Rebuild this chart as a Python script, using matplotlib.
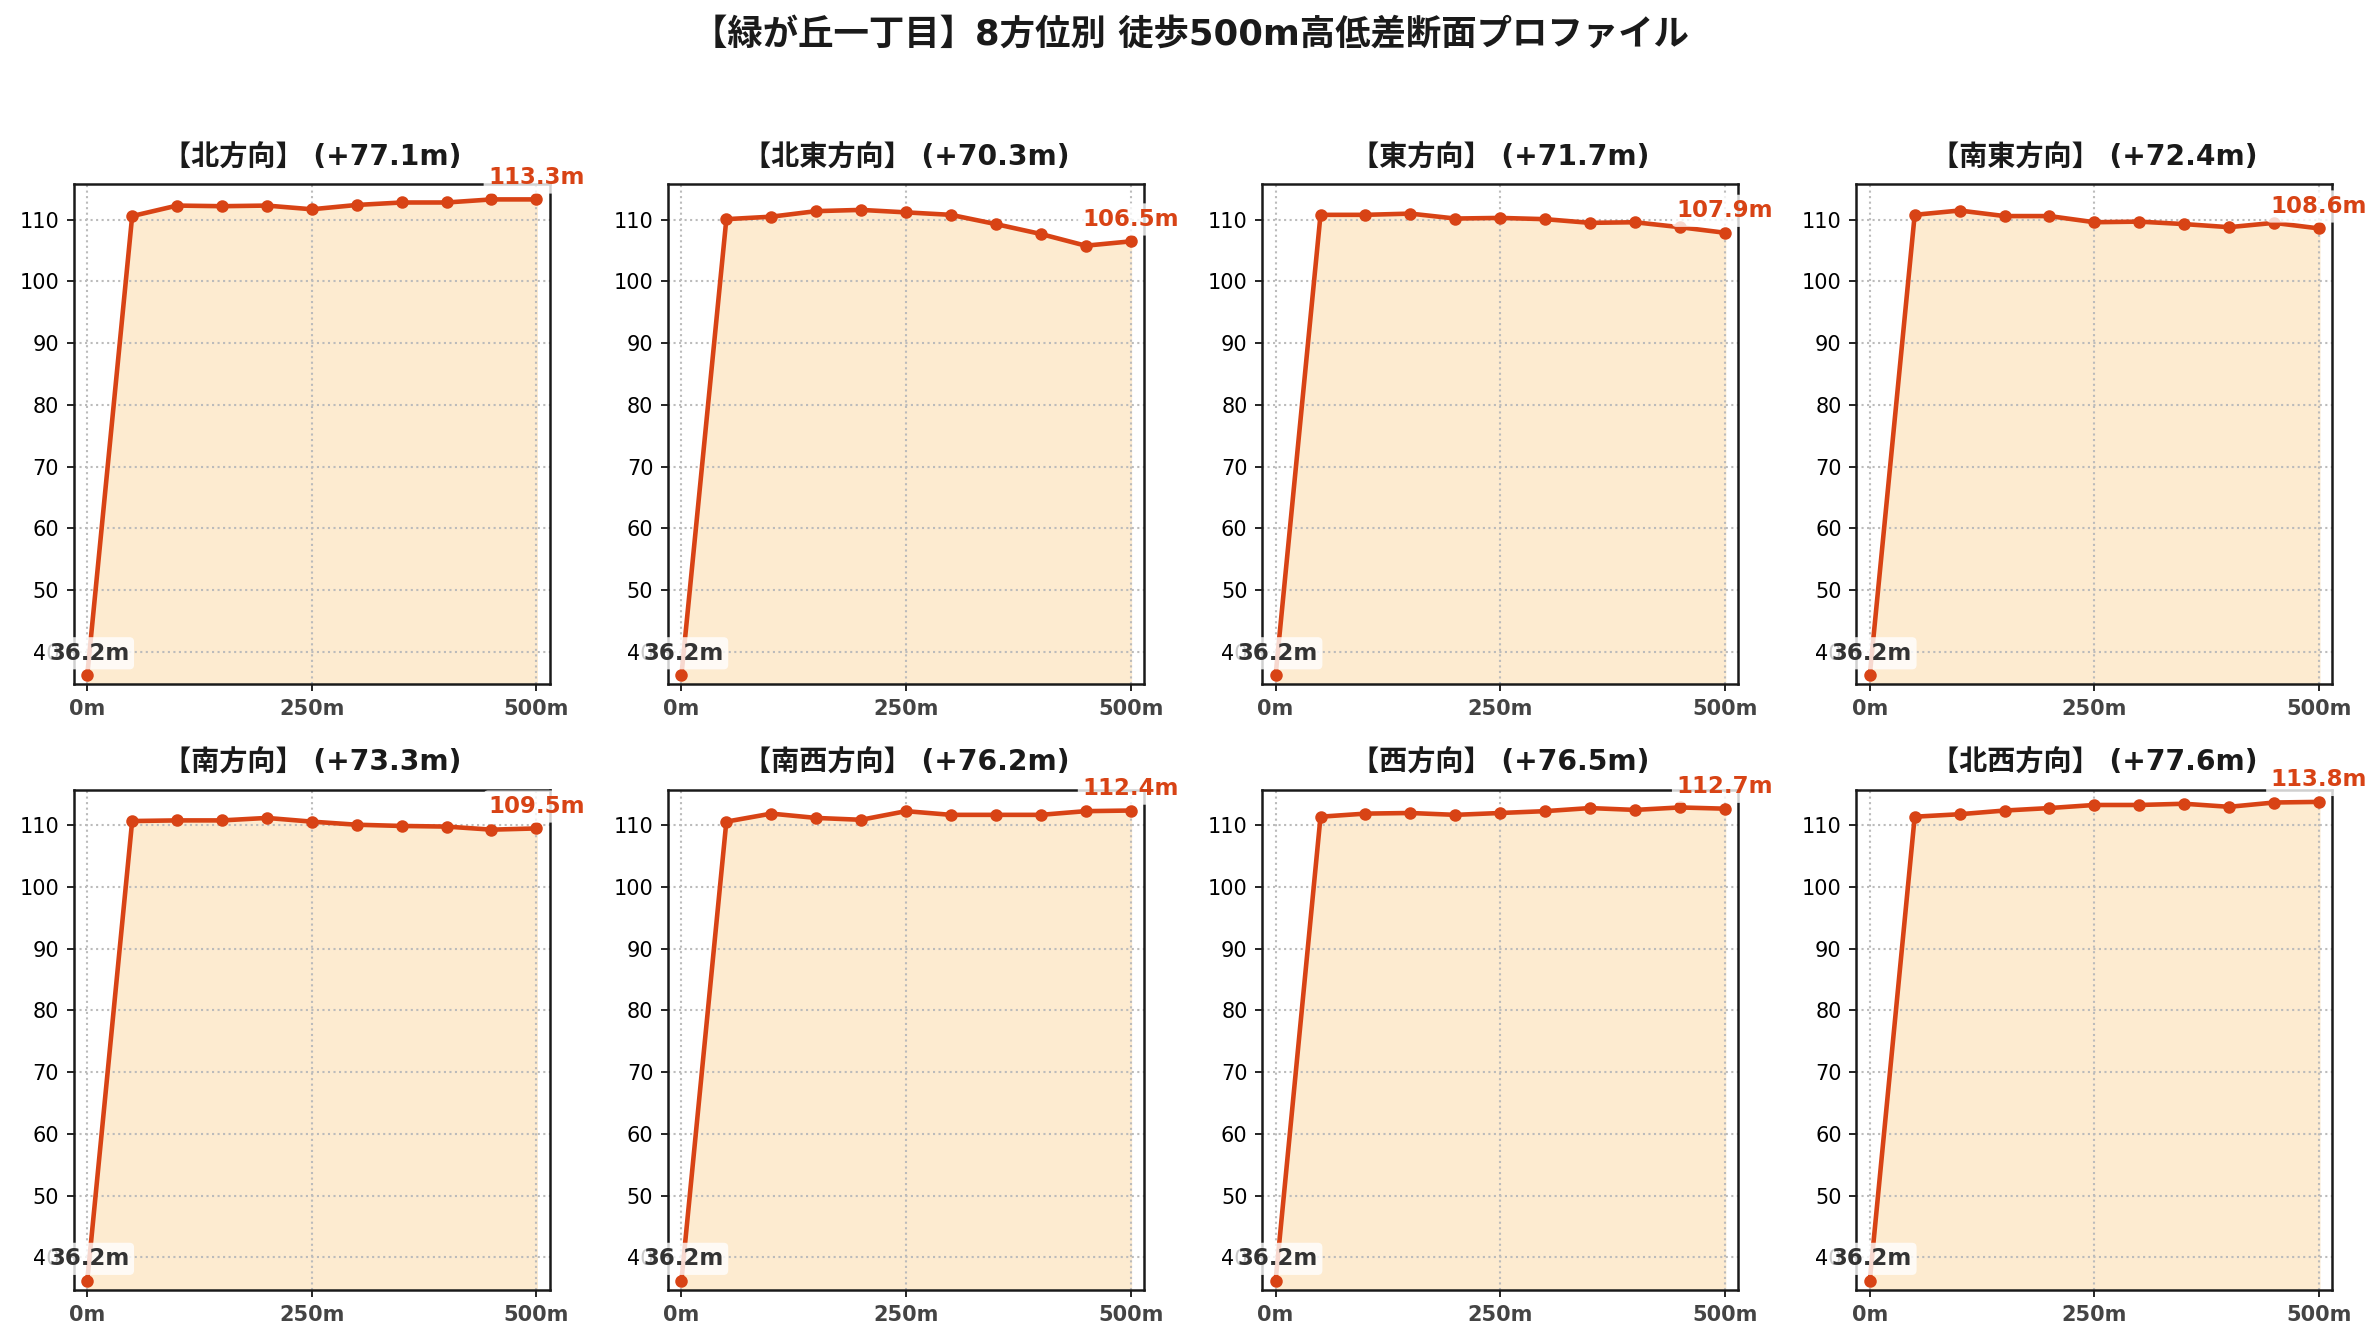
import matplotlib
matplotlib.use('Agg')
import matplotlib.pyplot as plt

plt.rcParams['font.family'] = ['DejaVu Sans', 'Noto Sans CJK JP']

# 距離 (m)
distances = [0, 50, 100, 150, 200, 250, 300, 350, 400, 450, 500]

# 方位ごとの標高 (m)
elev_n = [36.2, 110.6, 112.3, 112.2, 112.3, 111.7, 112.4, 112.8, 112.8, 113.3, 113.3]
elev_ne = [36.2, 110.1, 110.5, 111.4, 111.6, 111.2, 110.8, 109.3, 107.7, 105.8, 106.5]
elev_e = [36.2, 110.8, 110.8, 111.0, 110.2, 110.3, 110.1, 109.5, 109.6, 108.8, 107.9]
elev_se = [36.2, 110.8, 111.5, 110.6, 110.6, 109.6, 109.7, 109.3, 108.8, 109.5, 108.6]
elev_s = [36.2, 110.7, 110.8, 110.8, 111.2, 110.6, 110.1, 109.9, 109.8, 109.3, 109.5]
elev_sw = [36.2, 110.6, 111.9, 111.2, 110.9, 112.3, 111.7, 111.7, 111.7, 112.3, 112.4]
elev_w = [36.2, 111.4, 111.9, 112.0, 111.7, 112.0, 112.3, 112.8, 112.5, 112.9, 112.7]
elev_nw = [36.2, 111.4, 111.8, 112.4, 112.8, 113.3, 113.3, 113.5, 113.0, 113.7, 113.8]

direction_names = ['北', '北東', '東', '南東', '南', '南西', '西', '北西']
profiles = [elev_n, elev_ne, elev_e, elev_se, elev_s, elev_sw, elev_w, elev_nw]

line_color = '#D84315'
fill_color = '#FDEBD0'

fig, axes = plt.subplots(2, 4, figsize=(2380 / 150, 1340 / 150), dpi=150)
fig.subplots_adjust(left=0.031, right=0.980, top=0.8627, bottom=0.0373,
                    wspace=0.248, hspace=0.21)

ymin = min(min(p) for p in profiles) - 1.5
ymax = max(max(p) for p in profiles) + 2.0

for ax, name, elev in zip(axes.flat, direction_names, profiles):
    gain = elev[-1] - elev[0]
    ax.fill_between(distances, elev, ymin, color=fill_color, zorder=1)
    ax.plot(distances, elev, color=line_color, lw=2.2, marker='o', ms=5, zorder=3)

    ax.set_xlim(-15, 515)
    ax.set_ylim(ymin, ymax)
    ax.set_xticks([0, 250, 500])
    ax.set_xticklabels(['0m', '250m', '500m'], fontweight='bold', color='#444444')
    ax.set_yticks(range(40, 111, 10))
    ax.tick_params(labelsize=10)
    ax.grid(True, linestyle=':', color='#BBBBBB', lw=1)
    for sp in ax.spines.values():
        sp.set_linewidth(1.2)
        sp.set_color('#1a1a1a')

    ax.set_title(f'【{name}方向】 (+{gain:.1f}m)', fontsize=13.5, fontweight='bold',
                 color='#1a1a1a', pad=9)

    # 起点と終点のラベル
    ax.annotate(f'{elev[0]:.1f}m', (distances[0], elev[0]), xytext=(1, 5),
                textcoords='offset points', ha='center', va='bottom',
                fontsize=11, fontweight='bold', color='#333333', zorder=5,
                bbox=dict(boxstyle='round,pad=0.2', fc='white', ec='none', alpha=0.8))
    ax.annotate(f'{elev[-1]:.1f}m', (distances[-1], elev[-1]), xytext=(0, 5),
                textcoords='offset points', ha='center', va='bottom',
                fontsize=11, fontweight='bold', color=line_color, zorder=5,
                bbox=dict(boxstyle='round,pad=0.2', fc='white', ec='none', alpha=0.8))

fig.suptitle('【緑が丘一丁目】8方位別 徒歩500m高低差断面プロファイル',
             fontsize=17, fontweight='bold', y=0.987, color='#1a1a1a')

fig.savefig('out.png', dpi=150)
